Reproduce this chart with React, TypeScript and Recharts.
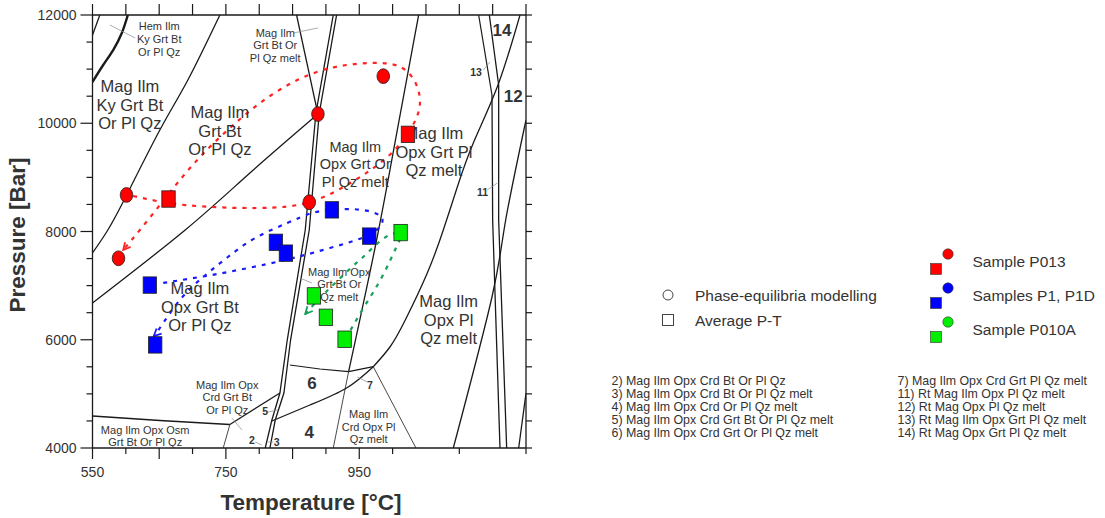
import React from "react";
import { ComposedChart, Line, Scatter, XAxis, YAxis } from "recharts";

const FONT = '"Liberation Sans", Arial, Helvetica, sans-serif';
const INK = "#1a1a1a";
const TEXT = "#333";

// axes
const T_TICKS = [550, 600, 650, 700, 750, 800, 850, 900, 950, 1000, 1050, 1100, 1150, 1200];
const T_LABELS = [550, 750, 950, 1150];
const P_TICKS = [
  4000, 4500, 5000, 5500, 6000, 6500, 7000, 7500, 8000, 8500, 9000, 9500, 10000, 10500, 11000,
  11500, 12000,
];
const P_LABELS = [4000, 6000, 8000, 10000, 12000];

// phase boundaries, [T °C, P bar]
const bdyCorner = [[561, 12000], [550, 11630]];
const bdyHem = [[550, 10762], [566, 11076], [581, 11353], [594, 11667], [603, 12000]];
const bdyKy = [[741, 12000], [693, 10799], [651, 9875], [602, 8693], [573, 8028], [550, 7603]];
const bdyGrtBt = [[888, 10170], [786, 9081], [689, 8028], [550, 6679]];
const bdyMelt = [[856, 12000], [888, 10170]];
const bdyOpxA = [[911, 12000], [885, 10189], [869, 8028], [842, 5995], [831, 5016], [819, 4517], [809, 4000]];
const bdyOpxB = [[916, 12000], [890, 10189], [875, 8028], [847, 5995], [837, 5016], [824, 4517], [816, 4000]];
const bdyOsm = [[550, 4591], [651, 4508], [756, 4434]];
const bdyOsmTail = [[756, 4434], [746, 4000]];
const bdyCrdBt = [[756, 4434], [831, 5016]];
const bdy64 = [[819, 4499], [876, 4794], [931, 5109], [971, 5502]];
const bdy6Top = [[846, 5533], [891, 5460], [934, 5410], [971, 5502]];
const bdyGrtOut = [[1039, 12000], [1007, 9875], [976, 7843], [934, 5410]];
const bdyGrtTail = [[934, 5410], [911, 4000]];
const bdyCrdOpx = [[971, 5502], [1035, 4000]];
const bdyOrOut = [
  [1191, 12000], [1158, 10706], [1121, 9635], [1097, 8822], [1076, 8028], [1052, 7233],
  [1019, 6365], [996, 5866], [971, 5502],
];
const bdyR1 = [[1129, 12000], [1149, 10522]];
const bdyR2 = [[1149, 10522], [1150, 8212], [1161, 4000]];
const bdyR3 = [[1145, 12000], [1159, 10706], [1159, 8212], [1171, 4000]];
const bdyRt = [[1200, 10060], [1169, 8175], [1149, 6790], [1091, 4000]];
const bdyR4 = [[1200, 5011], [1189, 4000]];

// label leader lines
const leaders = [
  [[576, 11815], [614, 11575]],
  [[851, 11667], [888, 11760]],
  [[1136, 10983], [1146, 11131]],
  [[1142, 8767], [1157, 8896]],
  [[861, 7141], [879, 7048]],
  [[813, 4665], [828, 4702]],
  [[759, 4554], [774, 4333]],
  [[794, 4111], [804, 4055]],
  [[813, 4111], [821, 4111]],
  [[947, 5312], [962, 5219]],
];

// P-T paths
const pathP013 = [
  [611, 8656], [689, 8489], [797, 8434], [876, 8545], [939, 8914], [992, 9376], [1026, 9875],
  [1041, 10429], [1019, 10984], [966, 11113], [891, 10965], [816, 10503], [756, 9912],
  [714, 9413], [681, 8951], [651, 8489], [621, 8027], [596, 7658],
];
const pathP1 = [
  [656, 7050], [711, 7159], [761, 7270], [812, 7399], [857, 7529], [906, 7695], [954, 7880],
  [978, 8050], [984, 8249], [963, 8380], [933, 8415], [906, 8397], [879, 8341], [842, 8157],
  [794, 7880], [753, 7529], [716, 7159], [681, 6734], [651, 6217], [642, 6069],
];
const pathP010A = [
  [937, 6180], [959, 6642], [984, 7159], [1005, 7695], [1011, 7898], [1000, 7960], [978, 7787],
  [959, 7566], [939, 7344], [906, 6956], [888, 6734], [869, 6476],
];

// estimates
const p013Model = [[601, 8675], [888, 10170], [875, 8540], [986, 10870], [589, 7505]];
const p013Avg = [[664, 8600], [1023, 9795]];
const p1Avg = [[909, 8400], [965, 7915], [825, 7800], [840, 7600], [636, 7010], [644, 5905]];
const p010aAvg = [[1012, 7980], [882, 6810], [900, 6415], [928, 6010]];

// field labels
const fieldLabels = [
  { at: [650, 11556], kind: "small", text: "Hem Ilm\nKy Grt Bt\nOr Pl Qz" },
  { at: [606, 10337], kind: "big", text: "Mag Ilm\nKy Grt Bt\nOr Pl Qz" },
  { at: [741, 9857], kind: "big", text: "Mag Ilm\nGrt Bt\nOr Pl Qz" },
  { at: [824, 11436], kind: "small", text: "Mag Ilm\nGrt Bt Or\nPl Qz melt" },
  { at: [944, 9247], kind: "mid", text: "Mag Ilm\nOpx Grt Or\nPl Qz melt" },
  { at: [1062, 9469], kind: "big", text: "Mag Ilm\nOpx Grt Pl\nQz melt" },
  { at: [1164, 11723], kind: "num", text: "14" },
  { at: [1181, 10503], kind: "num", text: "12" },
  { at: [1125, 10952], kind: "tiny", text: "13" },
  { at: [1135, 8717], kind: "tiny", text: "11" },
  { at: [711, 6610], kind: "big", text: "Mag Ilm\nOpx Grt Bt\nOr Pl Qz" },
  { at: [920, 7021], kind: "small", text: "Mag Ilm Opx\nGrt Bt Or\nQz melt" },
  { at: [1084, 6365], kind: "big", text: "Mag Ilm\nOpx Pl\nQz melt" },
  { at: [752, 4933], kind: "small", text: "Mag Ilm Opx\nCrd Grt Bt\nOr Pl Qz" },
  { at: [629, 4222], kind: "small", text: "Mag Ilm Opx Osm\nGrt Bt Or Pl Qz" },
  { at: [879, 5195], kind: "num", text: "6" },
  { at: [875, 4301], kind: "num", text: "4" },
  { at: [809, 4671], kind: "tiny", text: "5" },
  { at: [789, 4148], kind: "tiny", text: "2" },
  { at: [826, 4105], kind: "tiny", text: "3" },
  { at: [966, 5164], kind: "tiny", text: "7" },
  { at: [964, 4394], kind: "small", text: "Mag Ilm\nCrd Opx Pl\nQz melt" },
];

const sampleNames = ["Sample P013", "Samples P1, P1D", "Sample P010A"];
const methodNames = ["Phase-equilibria modelling", "Average P-T"];
const footLeft = [
  "2) Mag Ilm Opx Crd Bt Or Pl Qz",
  "3) Mag Ilm Opx Crd Bt Or Pl Qz melt",
  "4) Mag Ilm Opx Crd Or Pl Qz melt",
  "5) Mag Ilm Opx Crd Grt Bt Or Pl Qz melt",
  "6) Mag Ilm Opx Crd Grt Or Pl Qz melt",
];
const footRight = [
  "7) Mag Ilm Opx Crd Grt Pl Qz melt",
  "11) Rt Mag Ilm Opx Pl Qz melt",
  "12) Rt Mag Opx Pl Qz melt",
  "13) Rt Mag Ilm Opx Grt Pl Qz melt",
  "14) Rt Mag Opx Grt Pl Qz melt",
];

const pts = (arr: number[][]) => arr.map(([T, P]) => ({ T, P }));

const BOUNDARIES = [
  { d: bdyCorner, w: 1.3 },
  { d: bdyHem, w: 2.4, curve: "natural" },
  { d: bdyKy, w: 1.3, curve: "natural" },
  { d: bdyGrtBt, w: 1.3, curve: "natural" },
  { d: bdyMelt, w: 1.3 },
  { d: bdyOpxA, w: 1.3 },
  { d: bdyOpxB, w: 1.3 },
  { d: bdyOsm, w: 1.5, curve: "natural" },
  { d: bdyOsmTail, w: 0.8 },
  { d: bdyCrdBt, w: 1.3 },
  { d: bdy64, w: 1.3, curve: "natural" },
  { d: bdy6Top, w: 1.2 },
  { d: bdyGrtOut, w: 1.3, curve: "natural" },
  { d: bdyGrtTail, w: 0.8 },
  { d: bdyCrdOpx, w: 0.8 },
  { d: bdyOrOut, w: 1.3, curve: "natural" },
  { d: bdyR1, w: 1.2 },
  { d: bdyR2, w: 1.3 },
  { d: bdyR3, w: 1.3 },
  { d: bdyRt, w: 1.3, curve: "natural" },
  { d: bdyR4, w: 1.3 },
];

const PATHS = [
  { d: pathP013, color: "#f22", id: "arRed" },
  { d: pathP1, color: "#1a1aff", id: "arBlue" },
  { d: pathP010A, color: "#15a05a", id: "arGreen" },
];

const LABEL_KIND: Record<string, { size: number; lh: number; weight: number }> = {
  big: { size: 16.5, lh: 18.5, weight: 400 },
  mid: { size: 14.5, lh: 17.5, weight: 400 },
  small: { size: 11, lh: 12.8, weight: 400 },
  num: { size: 17, lh: 17, weight: 700 },
  tiny: { size: 10.5, lh: 10.5, weight: 700 },
};

const ellipse = (fill: string) => (p: any) =>
  <ellipse cx={p.cx} cy={p.cy} rx={6.3} ry={7.4} fill={fill} stroke="#222" strokeWidth={0.8} />;
const square = (fill: string) => (p: any) =>
  <rect x={p.cx - 6.7} y={p.cy - 8.2} width={13.4} height={16.4} fill={fill} stroke="#222" strokeWidth={0.8} />;

const fieldLabel = (p: any) => {
  const k = LABEL_KIND[p.payload.kind];
  const lines: string[] = p.payload.text.split("\n");
  const top = p.cy - ((lines.length - 1) * k.lh) / 2 + k.size * 0.36;
  return (
    <text textAnchor="middle" fontSize={k.size} fontWeight={k.weight} fill={TEXT} fontFamily={FONT}>
      {lines.map((s, i) => (
        <tspan key={i} x={p.cx} y={top + i * k.lh}>{s}</tspan>
      ))}
    </text>
  );
};

const bottomTick = (p: any) => {
  const v = p.payload.value;
  const axisY = p.y - 19;
  const long = (v - 550) % 100 === 0;
  return (
    <g>
      <line x1={p.x} x2={p.x} y1={axisY} y2={axisY + (long ? 11 : 6)} stroke={INK} strokeWidth={1.2} />
      {T_LABELS.includes(v) && (
        <text x={p.x} y={p.y} dy="0.71em" textAnchor="middle" fontSize={14} fill={TEXT}>{v}</text>
      )}
    </g>
  );
};

const leftTick = (p: any) => {
  const v = p.payload.value;
  const axisX = p.x + 16;
  const major = P_LABELS.includes(v);
  return (
    <g>
      <line x1={axisX - (major ? 12 : 6)} x2={axisX} y1={p.y} y2={p.y} stroke={INK} strokeWidth={1.2} />
      {major && (
        <text x={p.x} y={p.y} dominantBaseline="central" textAnchor="end" fontSize={14} fill={TEXT}>{v}</text>
      )}
    </g>
  );
};

const SAMPLE_COLORS = ["#ff0000", "#0000ff", "#00ee00"];

export default function App() {
  return (
    <div style={{ position: "absolute", left: 0, top: 0, width: 1105, height: 518, background: "#fff", fontFamily: FONT }}>
      <ComposedChart width={1105} height={518} margin={{ top: 3, right: 559, bottom: 40, left: 32.5 }}>
        <defs>
          {PATHS.map((p) => (
            <marker key={p.id} id={p.id} viewBox="0 0 10 10" refX={9} refY={5} markerWidth={9} markerHeight={9}
              markerUnits="userSpaceOnUse" orient="auto">
              <path d="M1,1 L9,5 L1,9" fill="none" stroke={p.color} strokeWidth={2} strokeDasharray="none" />
            </marker>
          ))}
        </defs>
        <XAxis dataKey="T" type="number" domain={[550, 1200]} allowDataOverflow ticks={T_TICKS}
          height={30} tickSize={11} tickMargin={8} tickLine={false} tick={bottomTick}
          axisLine={{ stroke: INK, strokeWidth: 1.3 }} />
        <XAxis xAxisId="top" orientation="top" dataKey="T" type="number" domain={[550, 1200]} allowDataOverflow
          ticks={T_TICKS} height={12} tickSize={11} tickFormatter={() => ""}
          tickLine={{ stroke: INK, strokeWidth: 1.2 }} axisLine={{ stroke: INK, strokeWidth: 1.3 }} />
        <YAxis dataKey="P" type="number" domain={[4000, 12000]} allowDataOverflow ticks={P_TICKS}
          width={60} tickSize={12} tickMargin={4} tickLine={false} tick={leftTick}
          axisLine={{ stroke: INK, strokeWidth: 1.3 }} />
        <YAxis yAxisId="right" orientation="right" dataKey="P" type="number" domain={[4000, 12000]} allowDataOverflow
          ticks={P_TICKS} width={20} tickSize={6} tickFormatter={() => ""}
          tickLine={{ stroke: INK, strokeWidth: 1.2 }} axisLine={{ stroke: INK, strokeWidth: 1.3 }} />

        {BOUNDARIES.map((b, i) => (
          <Line key={`b${i}`} data={pts(b.d)} dataKey="P" type={(b.curve as any) ?? "linear"} stroke={INK}
            strokeWidth={b.w} dot={false} activeDot={false} isAnimationActive={false} legendType="none" />
        ))}
        {leaders.map((l, i) => (
          <Line key={`l${i}`} data={pts(l)} dataKey="P" type="linear" stroke="#8a8a8a" strokeWidth={0.7}
            dot={false} activeDot={false} isAnimationActive={false} legendType="none" />
        ))}

        <Scatter data={fieldLabels.map((f) => ({ T: f.at[0], P: f.at[1], kind: f.kind, text: f.text }))}
          shape={fieldLabel} isAnimationActive={false} legendType="none" />

        {PATHS.map((p) => (
          <Line key={p.id} data={pts(p.d)} dataKey="P" type="natural" stroke={p.color} strokeWidth={2.2}
            strokeDasharray="4 6" markerEnd={`url(#${p.id})`} dot={false} activeDot={false}
            isAnimationActive={false} legendType="none" />
        ))}

        <Scatter data={pts(p013Model)} shape={ellipse(SAMPLE_COLORS[0])} isAnimationActive={false} />
        <Scatter data={pts(p013Avg)} shape={square(SAMPLE_COLORS[0])} isAnimationActive={false} />
        <Scatter data={pts(p1Avg)} shape={square(SAMPLE_COLORS[1])} isAnimationActive={false} />
        <Scatter data={pts(p010aAvg)} shape={square(SAMPLE_COLORS[2])} isAnimationActive={false} />
      </ComposedChart>

      <svg width={1105} height={518} style={{ position: "absolute", left: 0, top: 0, pointerEvents: "none" }}
        fontFamily={FONT}>
        <text x={311} y={510} textAnchor="middle" fontSize={22.5} fontWeight={700} fill={TEXT}>
          Temperature [°C]
        </text>
        <text transform="translate(24.5,235) rotate(-90)" textAnchor="middle" fontSize={22.5} fontWeight={700}
          fill={TEXT}>
          Pressure [Bar]
        </text>

        <circle cx={668} cy={295} r={5} fill="#fff" stroke="#444" strokeWidth={1} />
        <rect x={662.5} y={314.5} width={11} height={11} fill="#fff" stroke="#444" strokeWidth={1} />
        {methodNames.map((m, i) => (
          <text key={m} x={695} y={295 + i * 25} dominantBaseline="central" fontSize={15.5} fill={TEXT}>{m}</text>
        ))}

        {sampleNames.map((s, i) => (
          <g key={s}>
            <circle cx={948} cy={254 + i * 34} r={5.2} fill={SAMPLE_COLORS[i]} stroke="#333" strokeWidth={0.6} />
            <rect x={930.5} y={263.5 + i * 34} width={11} height={11} fill={SAMPLE_COLORS[i]} stroke="#333"
              strokeWidth={0.6} />
            <text x={972.5} y={261.5 + i * 34} dominantBaseline="central" fontSize={15.5} fill={TEXT}>{s}</text>
          </g>
        ))}

        {footLeft.map((s, i) => (
          <text key={s} x={611.5} y={380.5 + i * 13.2} dominantBaseline="central" fontSize={12.4} fill={TEXT}>{s}</text>
        ))}
        {footRight.map((s, i) => (
          <text key={s} x={897.5} y={380.5 + i * 13.2} dominantBaseline="central" fontSize={12.4} fill={TEXT}>{s}</text>
        ))}
      </svg>
    </div>
  );
}
